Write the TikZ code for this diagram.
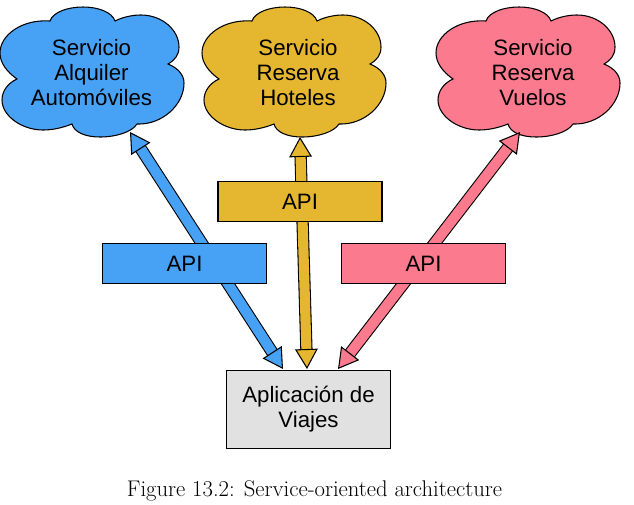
\documentclass[tikz,border=0pt]{standalone}
\usepackage{fontspec}
\setsansfont{Liberation Sans}
\usetikzlibrary{arrows.meta}

\definecolor{svcblue}{HTML}{47A1F5}
\definecolor{svcgold}{HTML}{E5B731}
\definecolor{svcred}{HTML}{FC7A8E}
\definecolor{appgrey}{HTML}{E1E1E1}

\tikzset{
	svctext/.style={font=\sffamily\fontsize{16.7}{18.75}\selectfont,align=center},
	apibox/.style={svctext,draw=black,line width=.8pt,fill=#1,minimum width=123pt,minimum height=30pt},
	apparrow/.style={double=#1,double distance=7.6pt,line width=.8pt,
		{Triangle[length=15pt,width=17pt,line width=.8pt,fill=#1]}-{Triangle[length=15pt,width=17pt,line width=.8pt,fill=#1]}},
	servicecloud/.pic={
		\path[pic actions] (50,21) .. controls (53,12) and (68,7) .. (83,7)
			.. controls (98,7) and (112,12) .. (115,21)
			.. controls (125,16) and (135,15) .. (141,15)
			.. controls (162,15) and (179,30) .. (179,47)
			.. controls (179,55) and (175,60) .. (168,64)
			.. controls (178,68) and (184,75) .. (184,83)
			.. controls (184,105) and (162,125) .. (137,124)
			.. controls (132,132) and (116,137) .. (100,137)
			.. controls (85,137) and (74,132) .. (72,124)
			.. controls (62,128) and (52,130) .. (43,130)
			.. controls (22,130) and (2,116) .. (2,100)
			.. controls (2,91) and (8,83) .. (17,79)
			.. controls (7,72) and (0,63) .. (0,53)
			.. controls (0,35) and (22,19) .. (50,21) -- cycle;
	}
}

\begin{document}
\begin{tikzpicture}[x=.75pt,y=-.75pt]
\useasboundingbox (0,0) rectangle (634,504);

\pic[draw=black,line width=.8pt,fill=svcblue] at (0,0) {servicecloud};
\pic[draw=black,line width=.8pt,fill=svcgold] at (202,0) {servicecloud};
\pic[draw=black,line width=.8pt,fill=svcred] at (436,0) {servicecloud};

\node[svctext] (autos) at (91.5,73) {Servicio\\Alquiler\\Automóviles};
\node[svctext] (hoteles) at (298,73) {Servicio\\Reserva\\Hoteles};
\node[svctext] (vuelos) at (533,73) {Servicio\\Reserva\\Vuelos};

\node[apibox=appgrey,minimum width=123pt,minimum height=58pt] (app) at (308.5,409.5) {Aplicación de\\Viajes};

\coordinate (autostip) at (130,132);
\coordinate (hotelestip) at (300,137);
\coordinate (vuelostip) at (520,132);
\coordinate (appautos) at (283,369);
\coordinate (apphoteles) at (307,369);
\coordinate (appvuelos) at (338,369);

\draw[apparrow=svcblue] (autostip) to (appautos);
\draw[apparrow=svcgold] (hotelestip) to (apphoteles);
\draw[apparrow=svcred] (vuelostip) to (appvuelos);

\node[apibox=svcblue] (apiautos) at (184.5,263.5) {API};
\node[apibox=svcgold] (apihoteles) at (300,201.5) {API};
\node[apibox=svcred] (apivuelos) at (423.5,263.5) {API};

\node[font=\rmfamily\fontsize{17}{19}\selectfont] (caption) at (314.5,490.5) {Figure 13.2: Service-oriented architecture};

\end{tikzpicture}
\end{document}
